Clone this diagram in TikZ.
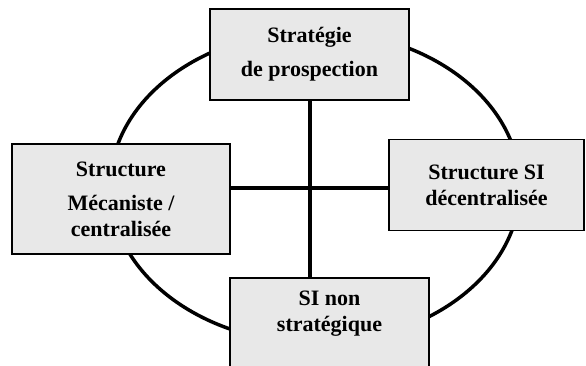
\documentclass[tikz,border=0pt]{standalone}
\usepackage{fontspec}
\setmainfont{Liberation Serif}
\usepackage{tikz}
\usetikzlibrary{calc}
\usetikzlibrary{positioning}
\definecolor{boxgray}{RGB}{232,232,232}

\begin{document}
\begin{tikzpicture}[x=1pt, y=-1pt,
    bloc/.style={draw=black, line width=1.5pt, fill=boxgray, rectangle, inner sep=0pt,
      align=center, font=\bfseries\fontsize{22}{26}\selectfont},
    intitule/.style={align=center, inner sep=0pt, font=\bfseries\fontsize{22}{26}\selectfont},
    anneau/.style={line width=3.5pt},
    axe/.style={line width=4pt}]
      \clip (0,0) rectangle (586,365);
      \coordinate (centre) at (315,187);
      \coordinate (hub) at (310,188);
      \draw[anneau] (centre) ellipse [x radius=205, y radius=156];
      \node[bloc, minimum width=199, minimum height=91] (strat) at (309.5,54.5) {Stratégie\\[8pt]de prospection};
      \node[bloc, minimum width=218, minimum height=110] (meca) at (121,199) {Structure\\[8pt]Mécaniste /\\centralisée};
      \node[bloc, minimum width=195, minimum height=91] (decent) at (486.5,185) {Structure SI\\décentralisée};
      \node[bloc, minimum width=199, minimum height=113, anchor=north] (nonstrat) at (329.5,277) {};
      \node[intitule] (nonstratlbl) at (329.5,314) {SI non\\stratégique};
      \draw[axe] (strat.south) -- (strat.south |- nonstrat.north);
      \draw[axe] (meca.east |- hub) -- (decent.west |- hub);
    \end{tikzpicture}
\end{document}
